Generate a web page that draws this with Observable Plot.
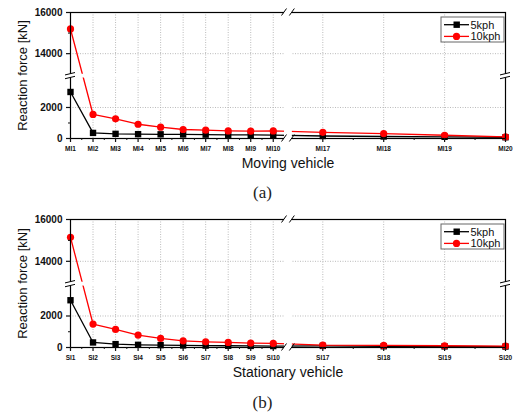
<!DOCTYPE html>
<html><head><meta charset="utf-8">
<script src="https://cdn.jsdelivr.net/npm/d3@7"></script>
<script src="https://cdn.jsdelivr.net/npm/@observablehq/plot@0.6"></script>
<style>
body{margin:0;background:#fff;font-family:"Liberation Sans",Arial,sans-serif;}
#fig{position:relative;width:513px;height:412px;background:#fff;}
.panel{position:absolute;left:0;}
.cap{position:absolute;left:0;width:513px;text-align:center;font-family:"Liberation Serif","DejaVu Serif",serif;font-size:17px;color:#222;}
</style></head><body><div id="fig"></div>
<script>
// ---- data ----
const movingLabels = ["MI1","MI2","MI3","MI4","MI5","MI6","MI7","MI8","MI9","MI10","MI17","MI18","MI19","MI20"];
const stationaryLabels = ["SI1","SI2","SI3","SI4","SI5","SI6","SI7","SI8","SI9","SI10","SI17","SI18","SI19","SI20"];
const positions = [1,2,3,4,5,6,7,8,9,10,17,18,19,20];
const moving5  = [3000, 360, 300, 280, 270, 260, 250, 240, 230, 220, 160, 130, 110, 80];
const moving10 = [15200, 1550, 1270, 920, 730, 580, 535, 490, 470, 490, 400, 320, 210, 100];
const stationary5  = [3000, 320, 215, 170, 150, 130, 120, 110, 100, 90, 100, 80, 70, 60];
const stationary10 = [15150, 1490, 1150, 790, 575, 425, 360, 320, 280, 260, 150, 130, 110, 90];
const seriesNames = ["5kph", "10kph"];
const seriesColors = ["#000000", "#ff0000"];
const seriesSymbols = ["square", "circle"];
const yTicks = [0, 2000, 14000, 16000];
const yMinorTicks = [1000, 3000, 15000];
const yGridTicks = [2000, 14000];
const yBreak = [3900, 13000];
const xBreak = [10.5, 16.5];
const yTitle = "Reaction force [kN]";

function makePanel({labels, s5, s10, title, height, marginTop, marginBottom}) {
  const W = 513, ML = 70, MR = 8;
  const L = ML, R = W - MR, T = marginTop, B = height - marginBottom;
  const pw = R - L, ph = B - T;
  const xRange = [L, L + 0.492 * pw, L + 0.510 * pw, R];
  const yRange = [B, B - 0.48 * ph, T + 0.49 * ph, T];
  const rows = [];
  [s5, s10].forEach((arr, si) => arr.forEach((v, i) => rows.push({pos: positions[i], v, series: seriesNames[si]})));
  const minor = d3.pairs(positions).filter(([a, b]) => b - a === 1).map(([a, b]) => (a + b) / 2);

  function breaks(index, {x, y}, values, dims) {
    const g = d3.create("svg:g");
    const xa = x(xBreak[0]), xb = x(xBreak[1]);
    const ya = y(yBreak[0]), yb = y(yBreak[1]);
    g.append("rect").attr("x", xa).attr("y", T - 4).attr("width", xb - xa).attr("height", B - T + 8).attr("fill", "white");
    g.append("rect").attr("x", L - 4).attr("y", yb).attr("width", R - L + 8).attr("height", ya - yb).attr("fill", "white");
    for (const yy of [T, B]) for (const xx of [xa, xb])
      g.append("line").attr("x1", xx - 2.5).attr("y1", yy + 3.5).attr("x2", xx + 2.5).attr("y2", yy - 3.5)
        .attr("stroke", "black").attr("stroke-width", 1);
    for (const xx of [L, R]) for (const yy of [ya, yb])
      g.append("line").attr("x1", xx - 5).attr("y1", yy + 1.2).attr("x2", xx + 5).attr("y2", yy - 1.2)
        .attr("stroke", "black").attr("stroke-width", 1);
    return g.node();
  }

  function legend(index, scales, values, dims) {
    const g = d3.create("svg:g").attr("text-anchor", "start");
    g.append("rect").attr("x", R - 64).attr("y", T + 5).attr("width", 63).attr("height", 25)
      .attr("fill", "white").attr("stroke", "#666").attr("stroke-width", 1);
    seriesNames.forEach((name, i) => {
      const yy = T + 12.7 + i * 11.7;
      g.append("line").attr("x1", R - 61).attr("x2", R - 36).attr("y1", yy).attr("y2", yy)
        .attr("stroke", seriesColors[i]).attr("stroke-width", 1.3);
      if (seriesSymbols[i] === "square")
        g.append("rect").attr("x", R - 51.5).attr("y", yy - 3.2).attr("width", 6.4).attr("height", 6.4).attr("fill", seriesColors[i]);
      else
        g.append("circle").attr("cx", R - 48.5).attr("cy", yy).attr("r", 3.6).attr("fill", seriesColors[i]);
      g.append("text").attr("x", R - 34.5).attr("y", yy).attr("dy", "0.35em").attr("font-size", 11)
        .attr("text-anchor", "start").attr("fill", "#111").text(name);
    });
    return g.node();
  }

  return Plot.plot({
    width: W, height, marginLeft: ML, marginRight: MR, marginTop, marginBottom,
    style: {fontFamily: "Liberation Sans, Arial, sans-serif", background: "white", color: "#111"},
    x: {type: "linear", domain: [1, xBreak[0], xBreak[1], 20], range: xRange},
    y: {type: "linear", domain: [0, yBreak[0], yBreak[1], 16000], range: yRange},
    marks: [
      Plot.gridX({ticks: positions, stroke: "#aaa", strokeOpacity: 1, strokeDasharray: "1,1.5", strokeWidth: 0.8}),
      Plot.gridY({ticks: yGridTicks, stroke: "#aaa", strokeOpacity: 1, strokeDasharray: "1,1.5", strokeWidth: 0.8}),
      Plot.line(rows, {x: "pos", y: "v", z: "series", stroke: d => seriesColors[seriesNames.indexOf(d.series)], strokeWidth: 1.3}),
      Plot.dot(rows.filter(d => d.series === seriesNames[0]), {x: "pos", y: "v", symbol: "square", fill: seriesColors[0], r: 3.6}),
      Plot.dot(rows.filter(d => d.series === seriesNames[1]), {x: "pos", y: "v", symbol: "circle", fill: seriesColors[1], r: 3.6}),
      Plot.frame({stroke: "black", strokeWidth: 1.2}),
      breaks,
      Plot.axisY({ticks: yTicks, tickSize: 4, tickPadding: 4, fontSize: 10, fontWeight: "bold", tickFormat: d => String(d), label: null, strokeWidth: 1.2}),
      Plot.axisY({ticks: yMinorTicks, tickSize: 2, tickFormat: () => "", label: null}),
      Plot.axisX({ticks: positions, tickSize: 4, tickPadding: 3.5, fontSize: 6.5, fontWeight: "bold", tickFormat: d => labels[positions.indexOf(d)], label: null, strokeWidth: 1.2}),
      Plot.axisX({ticks: minor, tickSize: 2, tickFormat: () => "", label: null}),
      Plot.text([title], {text: d => d, frameAnchor: "bottom", dy: 29, fontSize: 14, fill: "#111"}),
      Plot.text([yTitle], {text: d => d, frameAnchor: "left", textAnchor: "middle", dx: -48, rotate: -90, fontSize: 13, fill: "#111"}),
      legend
    ]
  });
}

const fig = document.getElementById("fig");
const pa = makePanel({labels: movingLabels, s5: moving5, s10: moving10, title: "Moving vehicle", height: 178, marginTop: 12, marginBottom: 40});
pa.classList.add("panel"); pa.style.top = "0px";
fig.appendChild(pa);
const ca = document.createElement("div"); ca.className = "cap"; ca.textContent = "(a)";
ca.style.top = "180px"; ca.style.height = "25px"; ca.style.lineHeight = "25px"; ca.style.paddingLeft = "12px"; ca.style.boxSizing = "border-box";
fig.appendChild(ca);
const pb = makePanel({labels: stationaryLabels, s5: stationary5, s10: stationary10, title: "Stationary vehicle", height: 184, marginTop: 17, marginBottom: 39});
pb.classList.add("panel"); pb.style.top = "202px";
fig.appendChild(pb);
const cb = document.createElement("div"); cb.className = "cap"; cb.textContent = "(b)";
cb.style.top = "390px"; cb.style.height = "26px"; cb.style.lineHeight = "26px"; cb.style.paddingLeft = "12px"; cb.style.boxSizing = "border-box";
fig.appendChild(cb);
</script></body></html>
